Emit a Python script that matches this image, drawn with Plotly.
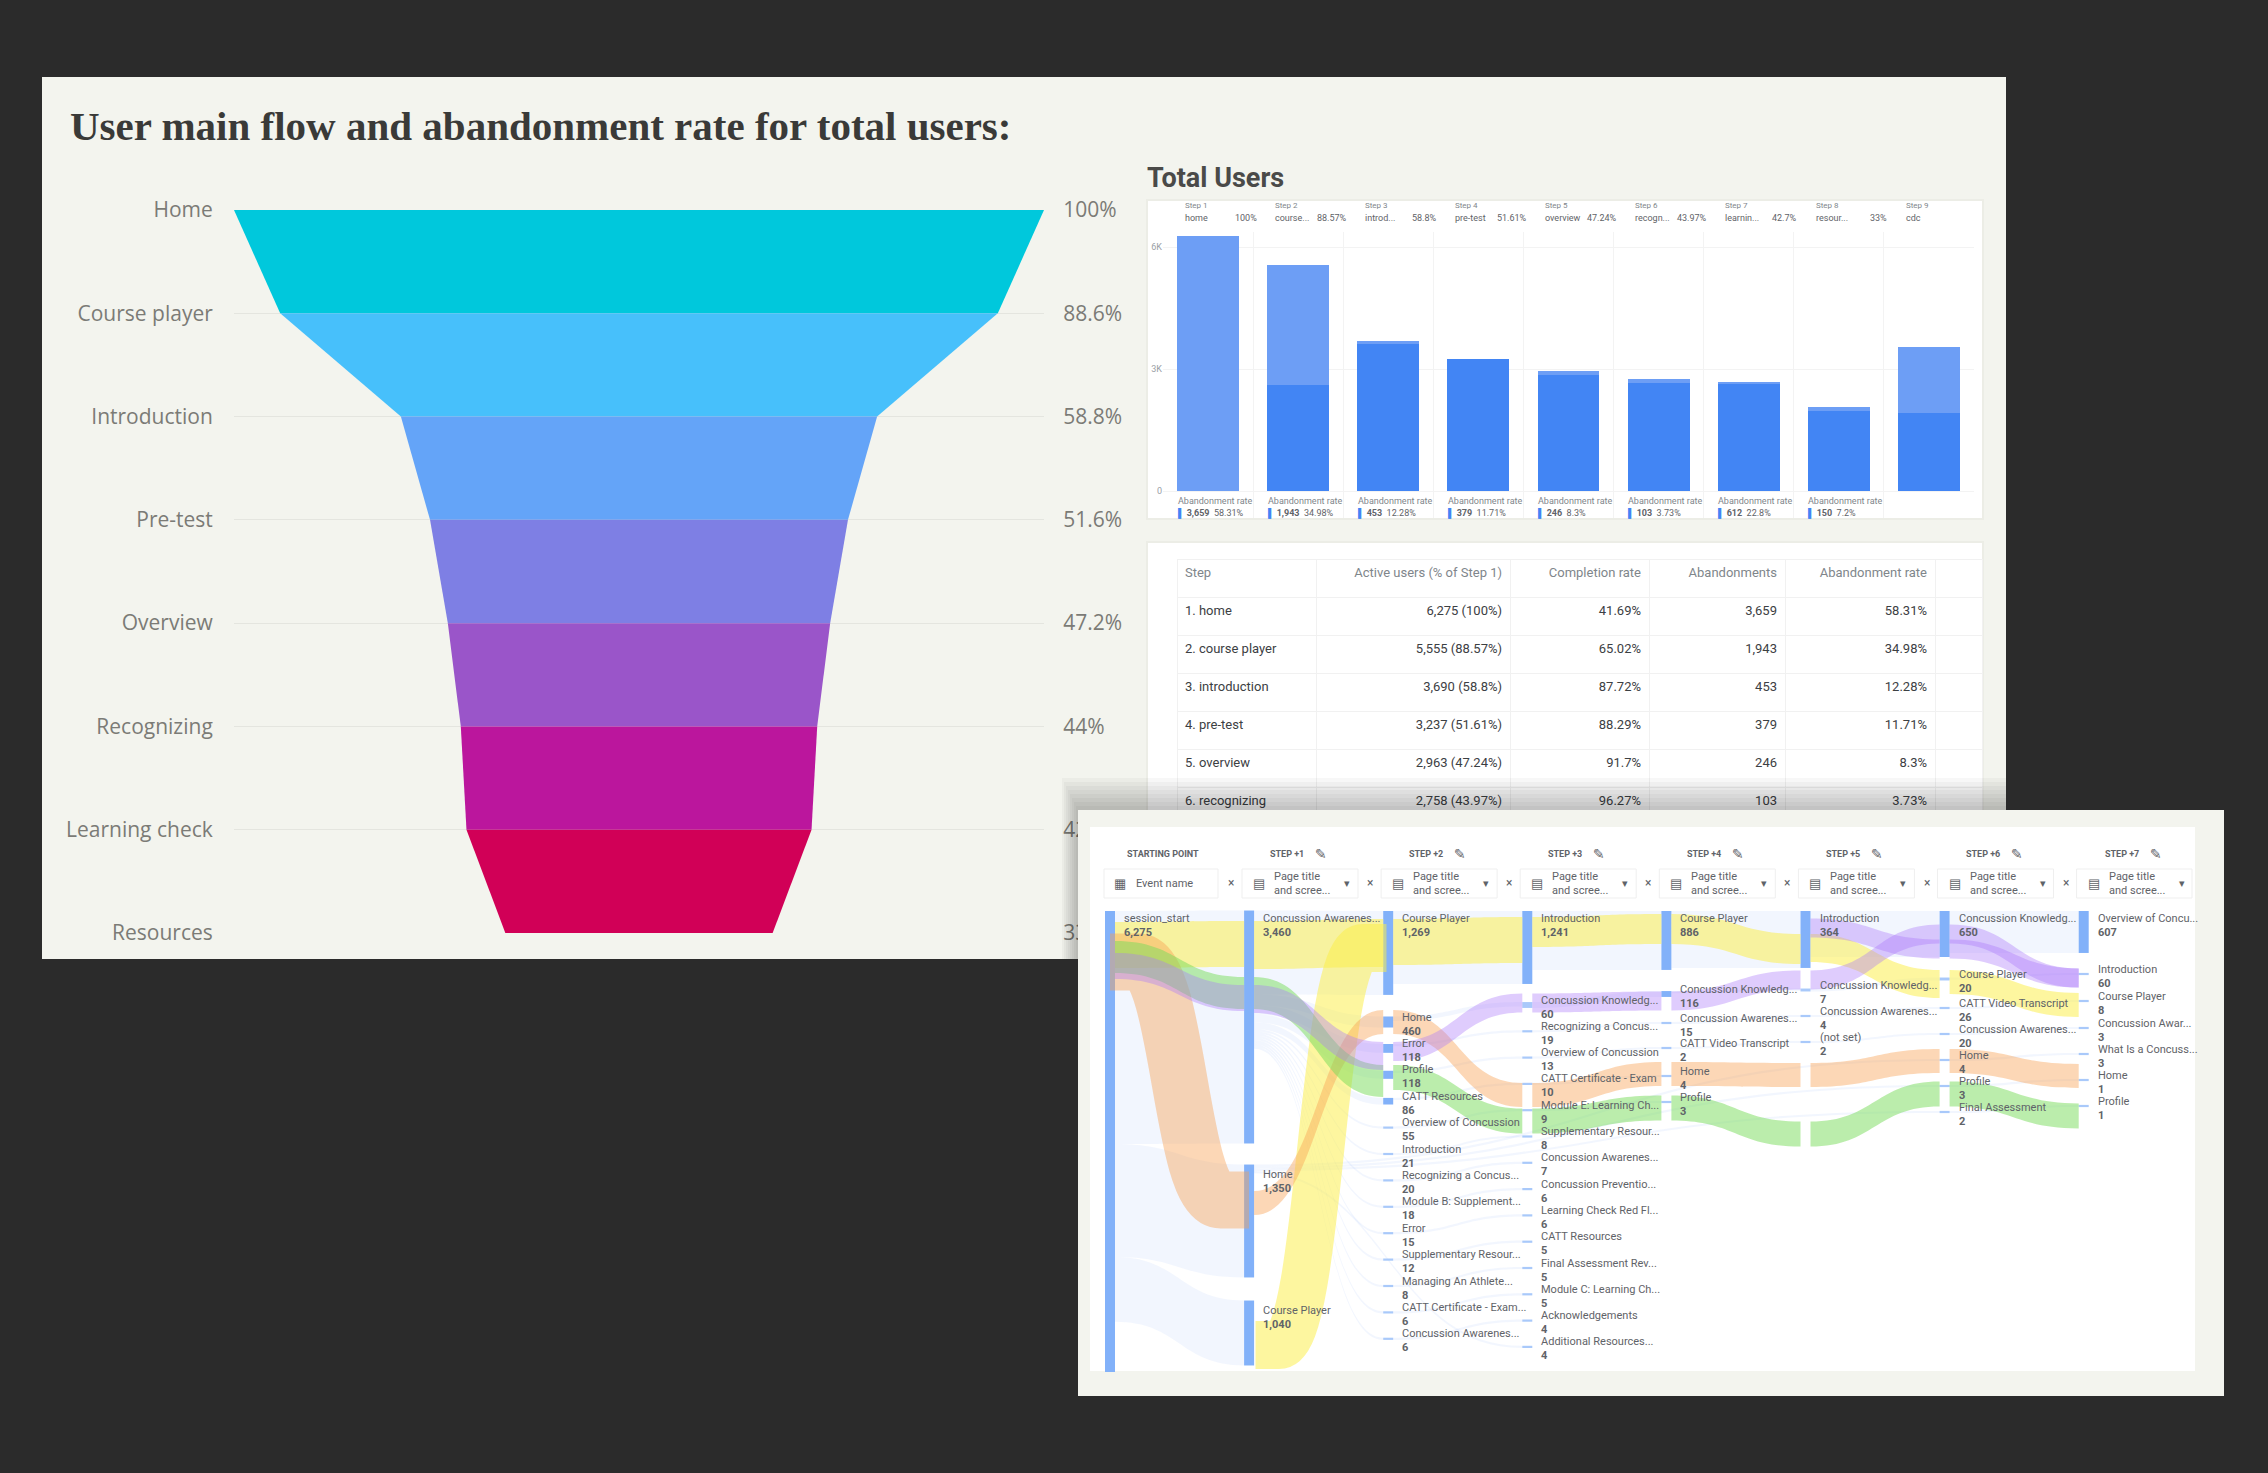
import plotly.graph_objects as go

W, H = 2268, 1473

# funnel
funnel_steps = ['Home', 'Course player', 'Introduction', 'Pre-test', 'Overview', 'Recognizing', 'Learning check', 'Resources']
funnel_values = [100, 88.6, 58.8, 51.6, 47.2, 44, 42.6, 33]
funnel_labels = ['100%', '88.6%', '58.8%', '51.6%', '47.2%', '44%', '42.6%', '33%']
funnel_colors = ['#00c8dc', '#47c0fb', '#64a4f8', '#7e7fe4', '#9a55c9', '#bb169d', '#d10057']

# total users bars
bar_steps = ['home', 'course...', 'introd...', 'pre-test', 'overview', 'recogn...', 'learnin...', 'resour...', 'cdc']
bar_pct = ['100%', '88.57%', '58.8%', '51.61%', '47.24%', '43.97%', '42.7%', '33%', '56.5%']
bar_total = [6275, 5555, 3690, 3237, 2963, 2758, 2680, 2070, 3545]
bar_completed = [0, 2616, 3612, 3237, 2858, 2655, 2633, 1968, 1920]
bar_abandon = ['3,659', '1,943', '453', '379', '246', '103', '612', '150']
bar_abandon_pct = ['58.31%', '34.98%', '12.28%', '11.71%', '8.3%', '3.73%', '22.8%', '7.2%']

# table
table_head = ['Step', 'Active users (% of Step 1)', 'Completion rate', 'Abandonments', 'Abandonment rate', '']
table_step = ['1. home', '2. course player', '3. introduction', '4. pre-test', '5. overview', '6. recognizing']
table_users = ['6,275 (100%)', '5,555 (88.57%)', '3,690 (58.8%)', '3,237 (51.61%)', '2,963 (47.24%)', '2,758 (43.97%)']
table_completion = ['41.69%', '65.02%', '87.72%', '88.29%', '91.7%', '96.27%']
table_abandons = ['3,659', '1,943', '453', '379', '246', '103']
table_abandon_rate = ['58.31%', '34.98%', '12.28%', '11.71%', '8.3%', '3.73%']
table_blank = ['', '', '', '', '', '']

# path exploration, labels per column
col0_names = ['session_start']
col0_counts = ['6,275']
col1_names = ['Concussion Awarenes...', 'Home', 'Course Player']
col1_counts = ['3,460', '1,350', '1,040']
col1_weights = [3171, 1537, 884]
top_names = ['Course Player', 'Introduction', 'Course Player', 'Introduction', 'Concussion Knowledg...', 'Overview of Concu...']
top_counts = ['1,269', '1,241', '886', '364', '650', '607']
top_weights = [1142, 993, 802, 775, 626, 571]
col2_names = ['Home', 'Error', 'Profile', 'CATT Resources', 'Overview of Concussion', 'Introduction', 'Recognizing a Concus...', 'Module B: Supplement...', 'Error', 'Supplementary Resour...', 'Managing An Athlete...', 'CATT Certificate - Exam...', 'Concussion Awarenes...']
col2_counts = ['460', '118', '118', '86', '55', '21', '20', '18', '15', '12', '8', '6', '6']
col2_weights = [150, 120, 110, 90, 30, 30, 30, 30, 30, 30, 30, 30, 30]
col3_names = ['Concussion Knowledg...', 'Recognizing a Concus...', 'Overview of Concussion', 'CATT Certificate - Exam', 'Module E: Learning Ch...', 'Supplementary Resour...', 'Concussion Awarenes...', 'Concussion Preventio...', 'Learning Check Red Fl...', 'CATT Resources', 'Final Assessment Rev...', 'Module C: Learning Ch...', 'Acknowledgements', 'Additional Resources...']
col3_counts = ['60', '19', '13', '10', '9', '8', '7', '6', '6', '5', '5', '5', '4', '4']
col3_weights = [60, 30, 30, 30, 30, 30, 30, 30, 30, 30, 30, 30, 30, 30]
col4_names = ['Concussion Knowledg...', 'Concussion Awarenes...', 'CATT Video Transcript', 'Home', 'Profile']
col4_counts = ['116', '15', '2', '4', '3']
col4_weights = [80, 30, 30, 30, 30]
col5_names = ['Concussion Knowledg...', 'Concussion Awarenes...', '(not set)']
col5_counts = ['7', '4', '2']
col5_weights = [30, 30, 30]
col6_names = ['Course Player', 'CATT Video Transcript', 'Concussion Awarenes...', 'Home', 'Profile', 'Final Assessment']
col6_counts = ['20', '26', '20', '4', '3', '2']
col6_weights = [40, 30, 30, 30, 30, 30]
col7_names = ['Introduction', 'Course Player', 'Concussion Awar...', 'What Is a Concuss...', 'Home', 'Profile']
col7_counts = ['60', '8', '3', '3', '1', '1']
col7_weights = [30, 30, 30, 30, 30, 30]

# highlighted paths: band thickness in users
yellow_weights = [626, 653, 626, 408, 408, 381, 327]
orange2_weights = [327, 327, 327, 327, 327, 327]
green_weights = [436, 436, 340, 340, 340, 340, 340]
purple_weights = [354, 381, 259, 259, 259, 259, 259]
purple2_weights = [259, 259]

SESSION_TOTAL = 6275


def fx(x):
    return x / W


def fy(y):
    return 1 - y / H


SK_X0, SK_X1, SK_Y0, SK_Y1 = 1090, 2194, 911, 1372
COL0, COL_STEP = 1110, 139.1


def node_x(col):
    return (COL0 + COL_STEP * col - SK_X0) / (SK_X1 - SK_X0)


def node_y(y):
    return (y - SK_Y0) / (SK_Y1 - SK_Y0)


fig = go.Figure()

# funnel bands
for i, color in enumerate(funnel_colors):
    a, b = funnel_values[i], funnel_values[i + 1]
    fig.add_trace(go.Scatter(x=[-a / 2, a / 2, b / 2, -b / 2, -a / 2], y=[i, i, i + 1, i + 1, i],
                             mode='lines', line=dict(width=0), fill='toself', fillcolor=color,
                             hoverinfo='skip', showlegend=False))
# keeps the right hand percent axis alive
fig.add_trace(go.Scatter(x=[0] * len(funnel_labels), y=list(range(len(funnel_labels))), mode='markers',
                         marker=dict(opacity=0), yaxis='y3', hoverinfo='skip', showlegend=False))

# total users bars
bar_x = list(range(len(bar_total)))
fig.add_trace(go.Bar(x=bar_x, y=bar_completed, marker=dict(color='#4285f4', line_width=0),
                     xaxis='x2', yaxis='y2', showlegend=False))
fig.add_trace(go.Bar(x=bar_x, y=[t - c for t, c in zip(bar_total, bar_completed)],
                     marker=dict(color='#6d9ef5', line_width=0),
                     xaxis='x2', yaxis='y2', showlegend=False))

# table
fig.add_trace(go.Table(
    domain=dict(x=[fx(1177), fx(1982)], y=[fy(812), fy(559)]),
    columnwidth=[139, 194, 139, 136, 150, 47],
    header=dict(values=table_head, height=38, fill_color='white', line_color='#f1f1f1',
                align=['left', 'right', 'right', 'right', 'right', 'right'],
                font=dict(family='Roboto', size=13, color='#80868b')),
    cells=dict(values=[table_step, table_users, table_completion, table_abandons, table_abandon_rate, table_blank],
               height=38, fill_color='white', line_color='#f1f1f1',
               align=['left', 'right', 'right', 'right', 'right', 'right'],
               font=dict(family='Roboto', size=13, color='#3c4043')),
))


# panel of the path exploration: tables draw above the funnel and below the sankey
def blank_panel(x0, x1, y0, y1, color):
    fig.add_trace(go.Table(domain=dict(x=[fx(x0), fx(x1)], y=[fy(y1), fy(y0)]),
                           header=dict(values=[''], height=y1 - y0, fill_color=color, line_color=color),
                           cells=dict(values=[['']], height=1, fill_color=color, line_color=color)))


blank_panel(1078, 2224, 810, 1396, '#f3f4ee')
blank_panel(1090, 2194, 827, 1372, 'white')

# sankey base: blue bars and pale flows
nx, ny, ncol, src, dst, val, lcol = [], [], [], [], [], [], []
PALE = 'rgba(66,133,244,0.07)'
BAR = '#82b1f9'
DASH = '#a9c9fa'


def add_node(col, y, color=BAR):
    nx.append(node_x(col))
    ny.append(node_y(y))
    ncol.append(color)
    return len(nx) - 1


def add_link(a, b, v, color=PALE):
    src.append(a)
    dst.append(b)
    val.append(v)
    lcol.append(color)


session = add_node(0, 911 + 461 / 2)
col1_centers = [1027, 1221, 1333]
col1_nodes = [add_node(1, y) for y in col1_centers]
for n, w in zip(col1_nodes, col1_weights):
    add_link(session, n, w)
drop = add_node(1, 1450, 'rgba(0,0,0,0)')
add_link(session, drop, SESSION_TOTAL - sum(col1_weights), 'rgba(0,0,0,0)')

top_nodes = []
for k, w in enumerate(top_weights):
    top_nodes.append(add_node(k + 2, 911 + w / 13.61 / 2))
add_link(col1_nodes[0], top_nodes[0], top_weights[0])
for k in range(1, len(top_nodes)):
    add_link(top_nodes[k - 1], top_nodes[k], top_weights[k])

small_cols = [
    (2, col2_names, col2_counts, col2_weights, [1018 + 26.4 * k for k in range(len(col2_names))]),
    (3, col3_names, col3_counts, col3_weights, [1001 + 26.3 * k for k in range(len(col3_names))]),
    (4, col4_names, col4_counts, col4_weights, [990, 1019, 1044, 1072, 1098]),
    (5, col5_names, col5_counts, col5_weights, [986, 1012, 1038]),
    (6, col6_names, col6_counts, col6_weights, [975, 1004, 1030, 1056, 1082, 1108]),
    (7, col7_names, col7_counts, col7_weights, [970, 997, 1024, 1050, 1076, 1102]),
]
# small rows flow row by row from the column before, so the top bars keep their height
prev_row = []
for col, names, counts, weights, rows in small_cols:
    this_row = []
    for j, (w, y) in enumerate(zip(weights, rows)):
        n = add_node(col, y + 4, BAR if w > 60 else DASH)
        if j < len(prev_row):
            add_link(prev_row[j], n, w)
        else:
            add_link(col1_nodes[0] if col == 2 else col1_nodes[1], n, w)
        this_row.append(n)
    prev_row = this_row


def sankey(nodes_x, nodes_y, nodes_color, s, t, v, c, line=None):
    return go.Sankey(
        domain=dict(x=[fx(SK_X0), fx(SK_X1)], y=[fy(SK_Y1), fy(SK_Y0)]),
        arrangement='fixed', hoverinfo='skip',
        node=dict(x=nodes_x, y=nodes_y, color=nodes_color, pad=0, thickness=10, line=dict(width=0),
                  label=[''] * len(nodes_x), hoverinfo='skip'),
        link=dict(source=s, target=t, value=v, color=c, hoverinfo='skip', line=line or dict(width=0)),
    )


fig.add_trace(sankey(nx, ny, ncol, src, dst, val, lcol))


def add_path(start_col, centers, weights, color):
    xs = [node_x(start_col + i) for i in range(len(centers))]
    ys = [node_y(y) for y in centers]
    s = list(range(len(weights)))
    t = [i + 1 for i in s]
    v = list(weights)
    c = [color] * len(weights)
    # hidden remainder of the session total, keeps the same users to pixels scale in every trace
    n = len(centers)
    xs += [0.01, 0.02]
    ys += [0.5, 0.5]
    s.append(n)
    t.append(n + 1)
    v.append(SESSION_TOTAL - max(weights[0], weights[-1]))
    c.append('rgba(0,0,0,0)')
    fig.add_trace(sankey(xs, ys, ['rgba(0,0,0,0)'] * len(xs), s, t, v, c))


def add_ribbon(x_a, y_a, x_b, y_b, thick, color):
    # steep flow: a thin link with a wide stroke keeps the same thickness along the curve.
    # line width is per trace, so the hidden remainder link sits below the page
    xs = [(x_a - SK_X0) / (SK_X1 - SK_X0), (x_b - SK_X0) / (SK_X1 - SK_X0), 0.01, 0.02]
    ys = [node_y(y_a), node_y(y_b), 2.5, 2.5]
    clear = 'rgba(0,0,0,0)'
    fig.add_trace(sankey(xs, ys, [clear] * 4, [0, 2], [1, 3], [14, SESSION_TOTAL - 14], [clear, clear],
                         line=dict(color=color, width=thick)))


YELLOW = 'rgba(252,238,70,0.52)'
ORANGE = 'rgba(247,160,80,0.42)'
GREEN = 'rgba(120,220,90,0.5)'
PURPLE = 'rgba(170,120,250,0.38)'
add_path(0, [945, 945, 943, 940, 929, 949, 984, 1005], yellow_weights, YELLOW)
add_ribbon(1274, 1345, 1368, 948, 47, YELLOW)
add_ribbon(1133, 962, 1226, 1200, 56, ORANGE)
add_path(1, [1203, 1022, 1095, 1074, 1075, 1061, 1076], orange2_weights, ORANGE)
add_path(0, [957, 993, 1081, 1121, 1108, 1134, 1094, 1116], green_weights, GREEN)
add_path(0, [966, 999, 1056, 1003, 1001, 980, 934, 978], purple_weights, PURPLE)
add_path(5, [928, 949, 978], purple2_weights, PURPLE)

# panels
shapes = [
    dict(type='rect', layer='below', xref='paper', yref='paper', x0=fx(42), x1=fx(2006), y0=fy(959), y1=fy(77),
         fillcolor='#f3f4ee', line_width=0),
    dict(type='rect', layer='below', xref='paper', yref='paper', x0=fx(1147), x1=fx(1983), y0=fy(519), y1=fy(200),
         fillcolor='white', line=dict(color='#ecede6', width=2)),
    dict(type='rect', layer='below', xref='paper', yref='paper', x0=fx(1147), x1=fx(1983), y0=fy(959), y1=fy(542),
         fillcolor='white', line=dict(color='#ecede6', width=2)),
]
# soft shadow around the path panel
for k in range(8):
    shapes.append(dict(type='rect', layer='above', xref='paper', yref='paper', x0=fx(1078 - 2 * (k + 1)), x1=fx(2006),
                       y0=fy(810), y1=fy(810 - 4 * (k + 1)), fillcolor='rgba(0,0,0,0.03)', line_width=0))
    shapes.append(dict(type='rect', layer='above', xref='paper', yref='paper', x0=fx(1078 - 2 * (k + 1)), x1=fx(1078),
                       y0=fy(959), y1=fy(810), fillcolor='rgba(0,0,0,0.03)', line_width=0))

annotations = [
    dict(x=fx(68), y=fy(126), text='<b>User main flow and abandonment rate for total users:</b>', showarrow=False,
         xref='paper', yref='paper', xanchor='left', yanchor='middle',
         font=dict(family='Liberation Serif', size=41, color='#3a3a38')),
    dict(x=fx(1145), y=fy(178), text='<b>Total Users</b>', showarrow=False, xref='paper', yref='paper',
         xanchor='left', yanchor='middle', font=dict(family='Roboto', size=27, color='#4a4a48')),
]


def label(x, y, text, size=11, color='#5f6368', anchor='left', family='Roboto'):
    annotations.append(dict(x=fx(x), y=fy(y), text=text, showarrow=False, xref='paper', yref='paper', align='left',
                            xanchor=anchor, yanchor='middle', font=dict(family=family, size=size, color=color)))


def bar_label(i, y, text, size, color='#5f6368', anchor='left'):
    annotations.append(dict(x=i, y=fy(y), xref='x2', yref='paper', text=text, showarrow=False, align='left',
                            xanchor=anchor, yanchor='middle', font=dict(family='Roboto', size=size, color=color)))


# bar card headers and footers
for i, name in enumerate(bar_steps):
    bar_label(i - 0.28, 205, 'Step %d' % (i + 1), 8, '#80868b')
    bar_label(i - 0.28, 218, name, 9)
    bar_label(i + 0.56, 218, bar_pct[i], 9, anchor='right')
for i, v in enumerate(bar_abandon):
    bar_label(i - 0.36, 501, 'Abandonment rate', 9, '#80868b')
    bar_label(i - 0.36, 513, '<span style="color:#4285f4">▌</span> <b>%s</b>  %s' % (v, bar_abandon_pct[i]), 9)

# path exploration headers and chips
label(1163, 854, '<b>STARTING POINT</b>', size=9, anchor='center')
for i in range(1, 8):
    cx = 1287 + COL_STEP * (i - 1)
    label(cx, 854, '<b>STEP +%d</b>' % i, size=9, anchor='center')
    label(cx + 34, 854, '✎', size=14, anchor='center', family='DejaVu Sans')
    chip = 1242 + COL_STEP * (i - 1)
    shapes.append(dict(type='rect', layer='above', xref='paper', yref='paper', x0=fx(chip), x1=fx(min(chip + 116, 2192)),
                       y0=fy(898), y1=fy(869), fillcolor='rgba(255,255,255,0)', line=dict(color='#efefef', width=1)))
    label(chip + 17, 883, '▤', size=13, anchor='center', family='DejaVu Sans')
    label(chip + 30, 883, 'Page title<br>and scree...', size=11)
    label(chip + 105, 883, '▾', size=11, anchor='center', family='DejaVu Sans')
    label(chip - 11, 883, '×', size=12, anchor='center')
shapes.append(dict(type='rect', layer='above', xref='paper', yref='paper', x0=fx(1104), x1=fx(1218),
                   y0=fy(898), y1=fy(869), fillcolor='rgba(255,255,255,0)', line=dict(color='#efefef', width=1)))
label(1120, 883, '▦', size=13, anchor='center', family='DejaVu Sans')
label(1134, 883, 'Event name', size=11)


def node_label(col, y, name, count):
    label(COL0 + COL_STEP * col + 12, y + 6, '%s<br><b>%s</b>' % (name, count))


node_label(0, 920, col0_names[0], col0_counts[0])
for name, count, y in zip(col1_names, col1_counts, [920, 1175, 1311]):
    node_label(1, y, name, count)
for k, (name, count) in enumerate(zip(top_names, top_counts)):
    node_label(k + 2, 920, name, count)
for col, names, counts, weights, rows in small_cols:
    for name, count, y in zip(names, counts, rows):
        node_label(col, y, name, count)

fig.update_layout(
    width=W, height=H, margin=dict(l=0, r=0, t=0, b=0, autoexpand=False),
    paper_bgcolor='#2b2b2b', plot_bgcolor='rgba(0,0,0,0)',
    barmode='stack', bargap=0.314, showlegend=False,
    shapes=shapes, annotations=annotations,
    xaxis=dict(domain=[fx(234), fx(1044)], range=[-50, 50], showgrid=False, zeroline=False, showticklabels=False),
    yaxis=dict(domain=[fy(933), fy(210)], range=[7, 0], tickmode='array', tickvals=list(range(8)),
               ticktext=funnel_steps, showgrid=True, gridcolor='#e4e5df', zeroline=False,
               ticks='outside', ticklen=16, tickcolor='rgba(0,0,0,0)',
               tickfont=dict(family='Open Sans', size=21, color='#7b7b76')),
    yaxis3=dict(domain=[fy(933), fy(210)], range=[7, 0], overlaying='y', side='right', anchor='x', tickmode='array',
                tickvals=list(range(8)), ticktext=funnel_labels, showgrid=False, zeroline=False,
                ticks='outside', ticklen=14, tickcolor='rgba(0,0,0,0)',
                tickfont=dict(family='Open Sans', size=21, color='#7b7b76')),
    xaxis2=dict(domain=[fx(1163), fx(1974)], range=[-0.5, 8.5], anchor='y2', tickvals=[i + 0.5 for i in range(8)],
                showticklabels=False, showgrid=True, gridcolor='#f3f3f3', zeroline=False),
    yaxis2=dict(domain=[fy(518), fy(232)], range=[-664, 6371], anchor='x2', tickvals=[0, 3000, 6000],
                ticktext=['0', '3K', '6K'], showgrid=True, gridcolor='#f3f3f3', zeroline=False,
                tickfont=dict(family='Roboto', size=9, color='#9aa0a6')),
)

fig.write_html("out.html", config=dict(displayModeBar=False), post_script="document.body.style.margin='0';")
